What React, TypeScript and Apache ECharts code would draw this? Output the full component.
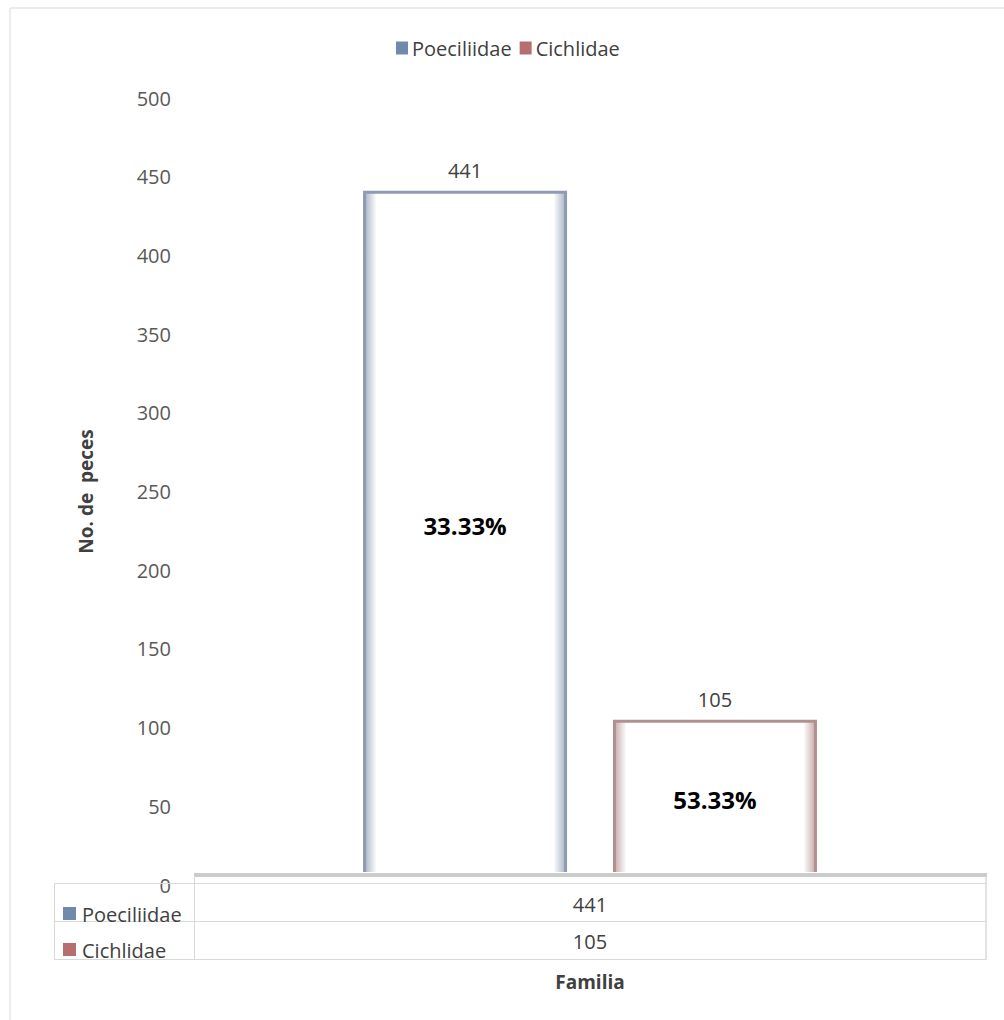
import React, { useEffect, useRef } from "react";
import * as echarts from "echarts";

const categories = ["Familia"];
const seriesNames = ["Poeciliidae", "Cichlidae"];
const poeciliidae = [441];
const cichlidae = [105];
const pctLabels = ["33.33%", "53.33%"];
const yMin = 0;
const yMax = 500;
const yInterval = 50;

const BLUE = "#7189ab";
const RED = "#b56f6f";
const FONT = "'Open Sans', 'DejaVu Sans', sans-serif";

function glow(edge: string) {
  return {
    type: "linear",
    x: 0,
    y: 0,
    x2: 1,
    y2: 0,
    colorStops: [
      { offset: 0, color: edge },
      { offset: 0.06, color: "#ffffff" },
      { offset: 0.94, color: "#ffffff" },
      { offset: 1, color: edge },
    ],
  };
}

export default function App() {
  const ref = useRef<HTMLDivElement>(null);
  useEffect(() => {
    document.body.style.margin = "0";
    document.body.style.overflow = "hidden";
    const chart = echarts.init(ref.current!, null, { renderer: "svg" });
    const valueLabel = (v: number) => ({
      show: true,
      position: "top",
      distance: 10,
      formatter: () => String(v),
      fontFamily: FONT,
      fontSize: 20,
      color: "#404040",
    });
    const pctLabel = (t: string, dy: number) => ({
      show: true,
      position: "inside",
      offset: [0, dy],
      formatter: () => t,
      fontFamily: FONT,
      fontSize: 24,
      fontWeight: "bold",
      color: "#000000",
    });
    const tableLine = "#d9d9d9";
    const option: any = {
      animation: false,
      backgroundColor: "#ffffff",
      legend: {
        data: [
          { name: seriesNames[0], itemStyle: { color: BLUE, borderWidth: 0 } },
          { name: seriesNames[1], itemStyle: { color: RED, borderWidth: 0 } },
        ],
        left: 391,
        top: 33,
        icon: "rect",
        itemWidth: 12,
        itemHeight: 13,
        itemGap: 8,
        textStyle: { fontFamily: FONT, fontSize: 20, color: "#404040", padding: [0, 0, 0, -1] },
      },
      grid: { left: 194, right: 18, top: 98, bottom: 135 },
      xAxis: {
        type: "category",
        data: categories,
        axisLine: { show: false },
        axisTick: { show: false },
        axisLabel: { show: false },
        name: "Familia",
        nameLocation: "middle",
        nameGap: 87,
        nameTextStyle: { fontFamily: FONT, fontSize: 19, fontWeight: "bold", color: "#404040" },
      },
      yAxis: {
        type: "value",
        min: yMin,
        max: yMax,
        interval: yInterval,
        axisLine: { show: false },
        axisTick: { show: false },
        splitLine: { show: false },
        axisLabel: { fontFamily: FONT, fontSize: 20, color: "#595959", margin: 23 },
        name: "No. de  peces",
        nameLocation: "middle",
        nameGap: 99,
        nameTextStyle: { fontFamily: FONT, fontSize: 19, fontWeight: "bold", color: "#404040" },
      },
      series: [
        {
          name: seriesNames[0],
          type: "bar",
          stack: "p",
          data: poeciliidae,
          barWidth: 204,
          barGap: "22.5%",
          itemStyle: { color: glow("#a9b3c3"), borderColor: "#8e9bb0", borderWidth: 3 },
          label: pctLabel(pctLabels[0], -12),
          z: 2,
        },
        {
          name: seriesNames[1],
          type: "bar",
          stack: "c",
          data: cichlidae,
          barWidth: 204,
          barGap: "22.5%",
          itemStyle: { color: glow("#c7abab"), borderColor: "#b39090", borderWidth: 3 },
          label: pctLabel(pctLabels[1], -3),
          z: 2,
        },
        {
          name: "pTop",
          type: "bar",
          stack: "p",
          data: poeciliidae.map(() => 0),
          barWidth: 204,
          itemStyle: { color: "transparent" },
          label: valueLabel(poeciliidae[0]),
          z: 3,
        },
        {
          name: "cTop",
          type: "bar",
          stack: "c",
          data: cichlidae.map(() => 0),
          barWidth: 204,
          itemStyle: { color: "transparent" },
          label: valueLabel(cichlidae[0]),
          z: 3,
        },
      ],
      graphic: [
        {
          type: "rect",
          shape: { x: 10, y: 8, width: 1100, height: 1100 },
          style: { fill: "none", stroke: "#d9d9d9", lineWidth: 1 },
          z: 0,
        },
        {
          type: "rect",
          shape: { x: 194, y: 872, width: 793, height: 14 },
          style: { fill: "#ffffff" },
          z: 50,
        },
        {
          type: "line",
          shape: { x1: 194, y1: 875, x2: 987, y2: 875 },
          style: { stroke: "#cbcbcb", lineWidth: 4 },
          z: 51,
        },
        { type: "line", shape: { x1: 54, y1: 883.5, x2: 986, y2: 883.5 }, style: { stroke: tableLine, lineWidth: 1 }, z: 51 },
        { type: "line", shape: { x1: 54, y1: 921.5, x2: 986, y2: 921.5 }, style: { stroke: tableLine, lineWidth: 1 }, z: 51 },
        { type: "line", shape: { x1: 54, y1: 959.5, x2: 986, y2: 959.5 }, style: { stroke: tableLine, lineWidth: 1 }, z: 51 },
        { type: "line", shape: { x1: 54.5, y1: 883, x2: 54.5, y2: 960 }, style: { stroke: tableLine, lineWidth: 1 }, z: 51 },
        { type: "line", shape: { x1: 194.5, y1: 876, x2: 194.5, y2: 960 }, style: { stroke: tableLine, lineWidth: 1 }, z: 51 },
        { type: "line", shape: { x1: 986, y1: 876, x2: 986, y2: 960 }, style: { stroke: tableLine, lineWidth: 1.5 }, z: 51 },
        { type: "rect", shape: { x: 63, y: 907, width: 13, height: 13 }, style: { fill: BLUE }, z: 52 },
        { type: "rect", shape: { x: 63, y: 943, width: 13, height: 13 }, style: { fill: RED }, z: 52 },
        {
          type: "text",
          x: 82,
          y: 914,
          style: { text: seriesNames[0], font: `20px ${FONT}`, fill: "#404040", verticalAlign: "middle" },
          z: 52,
        },
        {
          type: "text",
          x: 82,
          y: 950,
          style: { text: seriesNames[1], font: `20px ${FONT}`, fill: "#404040", verticalAlign: "middle" },
          z: 52,
        },
        {
          type: "text",
          x: 590,
          y: 904,
          style: { text: String(poeciliidae[0]), font: `20px ${FONT}`, fill: "#404040", align: "center", verticalAlign: "middle" },
          z: 52,
        },
        {
          type: "text",
          x: 590,
          y: 941,
          style: { text: String(cichlidae[0]), font: `20px ${FONT}`, fill: "#404040", align: "center", verticalAlign: "middle" },
          z: 52,
        },
      ],
    };
    chart.setOption(option);
    return () => chart.dispose();
  }, []);
  return <div ref={ref} style={{ width: 1004, height: 1020 }} />;
}
